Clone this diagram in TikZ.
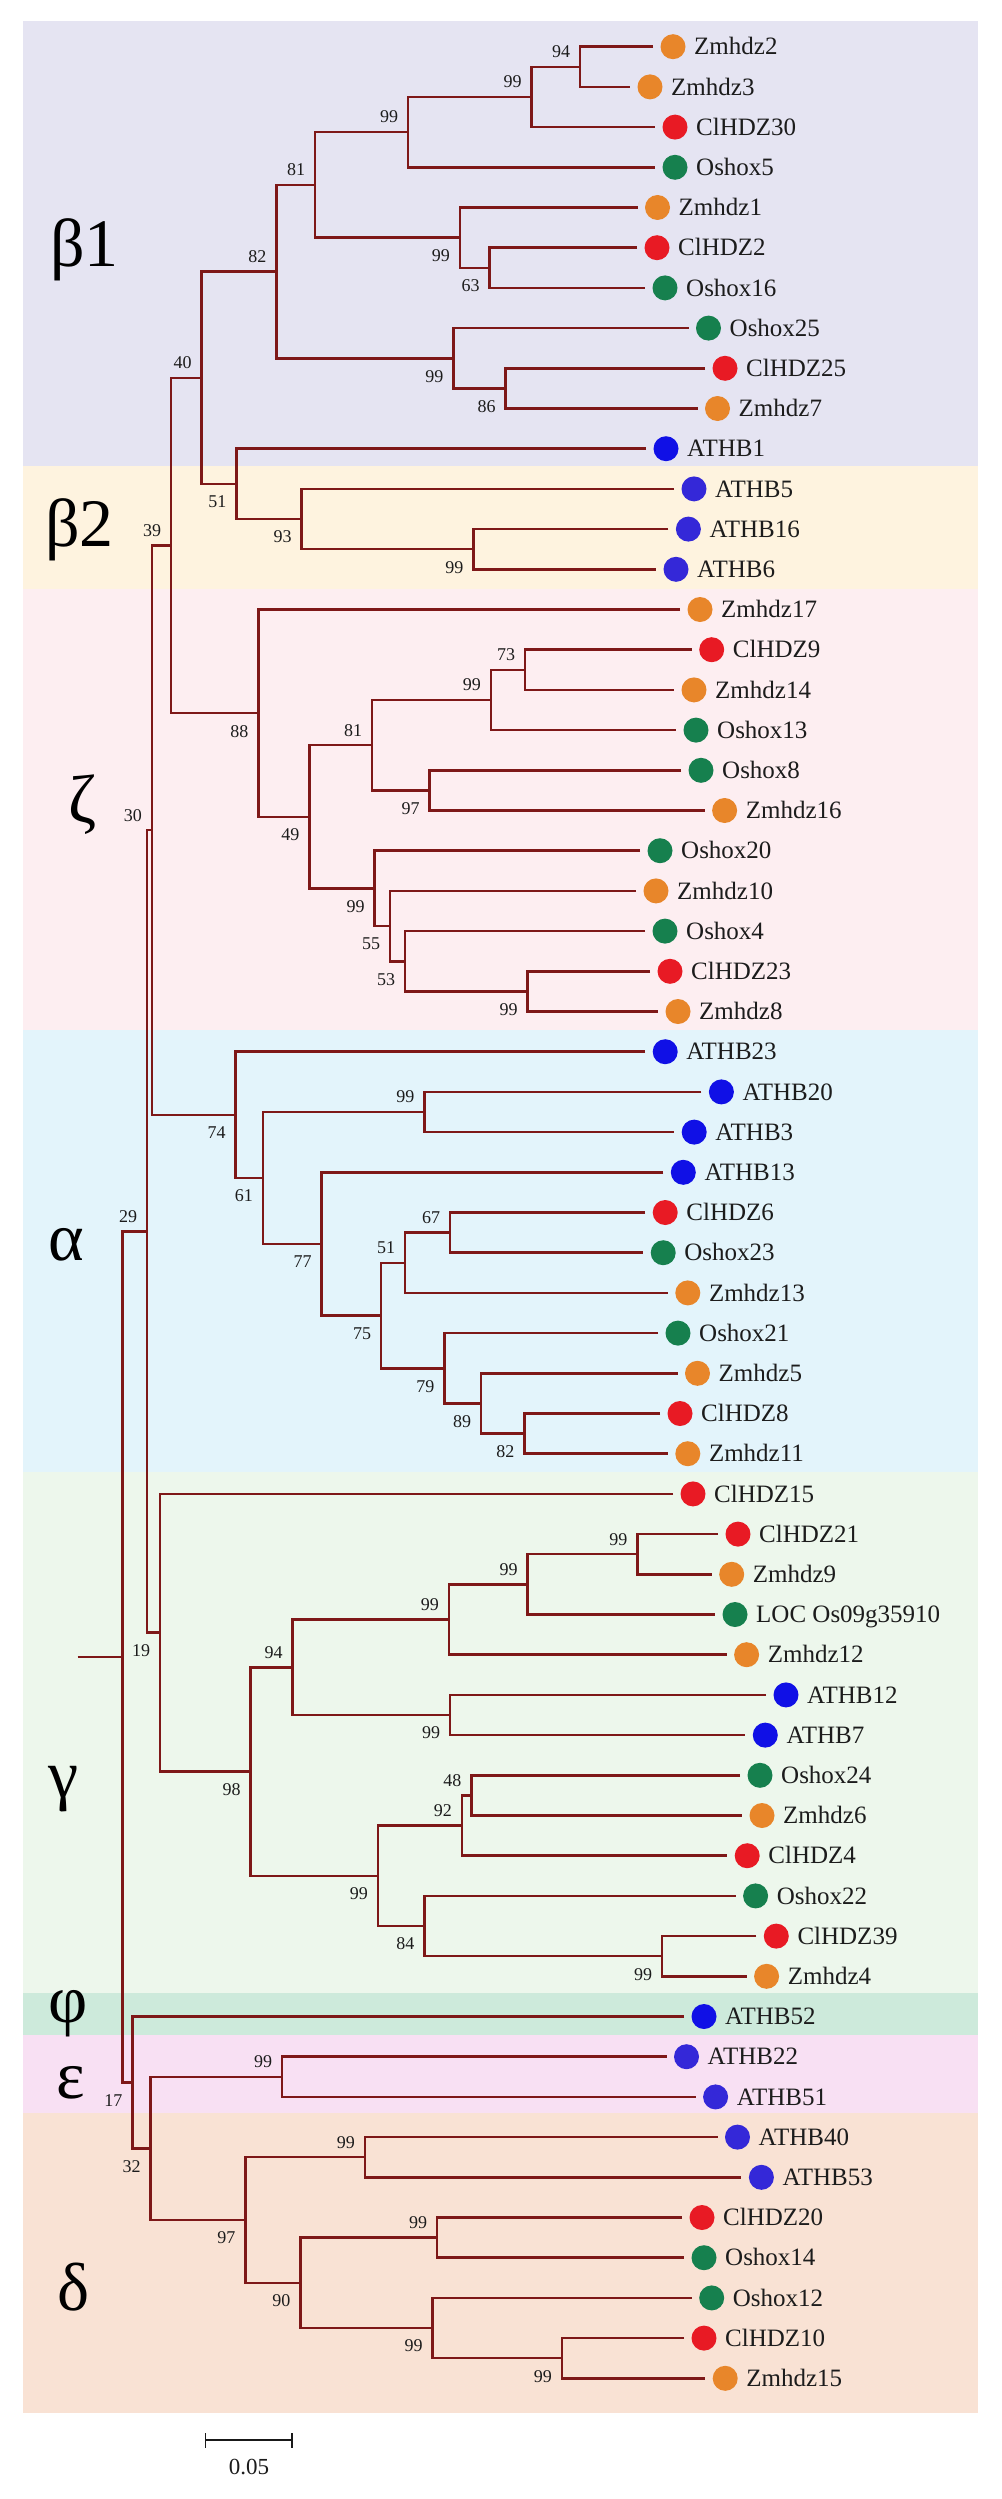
\documentclass[tikz,border=0pt]{standalone}
\usepackage{fontspec}
\setmainfont{Liberation Serif}
\definecolor{orangeC}{HTML}{E8862A}
\definecolor{redC}{HTML}{E81A24}
\definecolor{greenC}{HTML}{16804E}
\definecolor{blueC}{HTML}{1010E6}
\definecolor{blueD}{HTML}{3428D8}
\definecolor{branchC}{HTML}{7E1818}
\definecolor{bandBa}{HTML}{E5E4F2}
\definecolor{bandBb}{HTML}{FEF3DF}
\definecolor{bandZ}{HTML}{FDEEF1}
\definecolor{bandA}{HTML}{E3F4FB}
\definecolor{bandG}{HTML}{EDF7EC}
\definecolor{bandP}{HTML}{CDEADB}
\definecolor{bandE}{HTML}{F8E0F3}
\definecolor{bandD}{HTML}{F9E2D4}
\definecolor{txtC}{HTML}{1C1C1C}
\begin{document}
\begin{tikzpicture}[x=1pt,y=-1pt,
  leafdot/.style={circle, fill=#1, minimum size=25pt, inner sep=0pt, outer sep=7.5pt},
  taxon/.style={anchor=west, inner sep=0pt, xshift=1pt, text height=16.5pt, text depth=0pt, text=txtC, font=\fontsize{25}{30}\selectfont},
  bs/.style={inner sep=0pt, text=txtC, font=\fontsize{18}{20}\selectfont},
  branch/.style={draw=branchC, line width=2.5pt},
  greek/.style={anchor=base west, inner sep=0pt, text=black, font=\fontsize{68}{70}\selectfont},
  band/.style={draw=none}]
\useasboundingbox (0,0) rectangle (1001,2499);
\fill[white] (0,0) rectangle (1001,2499);
% bands
\fill[bandBa] (23.3,21) rectangle (978,465.7);
\fill[bandBb] (23.3,465.7) rectangle (978,589.3);
\fill[bandZ] (23.3,589.3) rectangle (978,1030);
\fill[bandA] (23.3,1030) rectangle (978,1471.7);
\fill[bandG] (23.3,1471.7) rectangle (978,1993.3);
\fill[bandP] (23.3,1993.3) rectangle (978,2035);
\fill[bandE] (23.3,2035) rectangle (978,2112.7);
\fill[bandD] (23.3,2112.7) rectangle (978,2413);
% greek labels
\node[greek] (gb1) at (50,267) {β1};
\node[greek] (gb2) at (45,546) {β2};
\node[greek] (gz) at (68,822) {ζ};
\node[greek] (ga) at (48,1260) {α};
\node[greek] (gg) at (48,1797) {γ};
\node[greek] (gp) at (48,2022) {φ};
\node[greek] (ge) at (56,2098) {ε};
\node[greek] (gd) at (57,2310) {δ};
% leaves
\node[leafdot=orangeC] (l0) at (673,46.7) {};   \node[taxon] (t0) at (l0.east) {Zmhdz2};
\node[leafdot=orangeC] (l1) at (650,86.9) {};   \node[taxon] (t1) at (l1.east) {Zmhdz3};
\node[leafdot=redC] (l2) at (675,127.1) {};     \node[taxon] (t2) at (l2.east) {ClHDZ30};
\node[leafdot=greenC] (l3) at (675,167.3) {};   \node[taxon] (t3) at (l3.east) {Oshox5};
\node[leafdot=orangeC] (l4) at (657.5,207.5) {};\node[taxon] (t4) at (l4.east) {Zmhdz1};
\node[leafdot=redC] (l5) at (657,247.7) {};     \node[taxon] (t5) at (l5.east) {ClHDZ2};
\node[leafdot=greenC] (l6) at (665,287.9) {};   \node[taxon] (t6) at (l6.east) {Oshox16};
\node[leafdot=greenC] (l7) at (708.5,328.1) {}; \node[taxon] (t7) at (l7.east) {Oshox25};
\node[leafdot=redC] (l8) at (725,368.3) {};     \node[taxon] (t8) at (l8.east) {ClHDZ25};
\node[leafdot=orangeC] (l9) at (717.5,408.5) {};\node[taxon] (t9) at (l9.east) {Zmhdz7};
\node[leafdot=blueC] (l10) at (666,448.7) {};   \node[taxon] (t10) at (l10.east) {ATHB1};
\node[leafdot=blueD] (l11) at (694,488.9) {};   \node[taxon] (t11) at (l11.east) {ATHB5};
\node[leafdot=blueD] (l12) at (688.4,529.1) {}; \node[taxon] (t12) at (l12.east) {ATHB16};
\node[leafdot=blueD] (l13) at (676,569.3) {};   \node[taxon] (t13) at (l13.east) {ATHB6};
\node[leafdot=orangeC] (l14) at (700,609.5) {}; \node[taxon] (t14) at (l14.east) {Zmhdz17};
\node[leafdot=redC] (l15) at (711.7,649.7) {};  \node[taxon] (t15) at (l15.east) {ClHDZ9};
\node[leafdot=orangeC] (l16) at (694,689.9) {}; \node[taxon] (t16) at (l16.east) {Zmhdz14};
\node[leafdot=greenC] (l17) at (696,730.1) {};  \node[taxon] (t17) at (l17.east) {Oshox13};
\node[leafdot=greenC] (l18) at (701,770.3) {};  \node[taxon] (t18) at (l18.east) {Oshox8};
\node[leafdot=orangeC] (l19) at (724.6,810.5) {};\node[taxon] (t19) at (l19.east) {Zmhdz16};
\node[leafdot=greenC] (l20) at (660,850.7) {};  \node[taxon] (t20) at (l20.east) {Oshox20};
\node[leafdot=orangeC] (l21) at (656,890.9) {}; \node[taxon] (t21) at (l21.east) {Zmhdz10};
\node[leafdot=greenC] (l22) at (665,931.1) {};  \node[taxon] (t22) at (l22.east) {Oshox4};
\node[leafdot=redC] (l23) at (670,971.3) {};    \node[taxon] (t23) at (l23.east) {ClHDZ23};
\node[leafdot=orangeC] (l24) at (678,1011.5) {};\node[taxon] (t24) at (l24.east) {Zmhdz8};
\node[leafdot=blueC] (l25) at (665.2,1051.7) {};\node[taxon] (t25) at (l25.east) {ATHB23};
\node[leafdot=blueC] (l26) at (721.4,1091.9) {};\node[taxon] (t26) at (l26.east) {ATHB20};
\node[leafdot=blueC] (l27) at (694.2,1132.1) {};\node[taxon] (t27) at (l27.east) {ATHB3};
\node[leafdot=blueC] (l28) at (683.3,1172.3) {};\node[taxon] (t28) at (l28.east) {ATHB13};
\node[leafdot=redC] (l29) at (665.2,1212.5) {}; \node[taxon] (t29) at (l29.east) {ClHDZ6};
\node[leafdot=greenC] (l30) at (663.2,1252.7) {};\node[taxon] (t30) at (l30.east) {Oshox23};
\node[leafdot=orangeC] (l31) at (687.8,1292.9) {};\node[taxon] (t31) at (l31.east) {Zmhdz13};
\node[leafdot=greenC] (l32) at (678,1333.1) {}; \node[taxon] (t32) at (l32.east) {Oshox21};
\node[leafdot=orangeC] (l33) at (697.5,1373.3) {};\node[taxon] (t33) at (l33.east) {Zmhdz5};
\node[leafdot=redC] (l34) at (680,1413.5) {};   \node[taxon] (t34) at (l34.east) {ClHDZ8};
\node[leafdot=orangeC] (l35) at (687.8,1453.7) {};\node[taxon] (t35) at (l35.east) {Zmhdz11};
\node[leafdot=redC] (l36) at (693,1493.9) {};   \node[taxon] (t36) at (l36.east) {ClHDZ15};
\node[leafdot=redC] (l37) at (738,1534.1) {};   \node[taxon] (t37) at (l37.east) {ClHDZ21};
\node[leafdot=orangeC] (l38) at (731.7,1574.3) {};\node[taxon] (t38) at (l38.east) {Zmhdz9};
\node[leafdot=greenC] (l39) at (735,1614.5) {}; \node[taxon] (t39) at (l39.east) {LOC Os09g35910};
\node[leafdot=orangeC] (l40) at (746.6,1654.7) {};\node[taxon] (t40) at (l40.east) {Zmhdz12};
\node[leafdot=blueC] (l41) at (786,1694.9) {};  \node[taxon] (t41) at (l41.east) {ATHB12};
\node[leafdot=blueC] (l42) at (765.3,1735.1) {};\node[taxon] (t42) at (l42.east) {ATHB7};
\node[leafdot=greenC] (l43) at (760,1775.3) {}; \node[taxon] (t43) at (l43.east) {Oshox24};
\node[leafdot=orangeC] (l44) at (762,1815.5) {};\node[taxon] (t44) at (l44.east) {Zmhdz6};
\node[leafdot=redC] (l45) at (747.2,1855.7) {}; \node[taxon] (t45) at (l45.east) {ClHDZ4};
\node[leafdot=greenC] (l46) at (755.6,1895.9) {};\node[taxon] (t46) at (l46.east) {Oshox22};
\node[leafdot=redC] (l47) at (776.3,1936.1) {}; \node[taxon] (t47) at (l47.east) {ClHDZ39};
\node[leafdot=orangeC] (l48) at (766.6,1976.3) {};\node[taxon] (t48) at (l48.east) {Zmhdz4};
\node[leafdot=blueC] (l49) at (704,2016.5) {};  \node[taxon] (t49) at (l49.east) {ATHB52};
\node[leafdot=blueD] (l50) at (686.5,2056.7) {};\node[taxon] (t50) at (l50.east) {ATHB22};
\node[leafdot=blueD] (l51) at (715.6,2096.9) {};\node[taxon] (t51) at (l51.east) {ATHB51};
\node[leafdot=blueD] (l52) at (737.5,2137.1) {};\node[taxon] (t52) at (l52.east) {ATHB40};
\node[leafdot=blueD] (l53) at (761.4,2177.3) {};\node[taxon] (t53) at (l53.east) {ATHB53};
\node[leafdot=redC] (l54) at (702,2217.5) {};   \node[taxon] (t54) at (l54.east) {ClHDZ20};
\node[leafdot=greenC] (l55) at (704,2257.7) {}; \node[taxon] (t55) at (l55.east) {Oshox14};
\node[leafdot=greenC] (l56) at (711.7,2297.9) {};\node[taxon] (t56) at (l56.east) {Oshox12};
\node[leafdot=redC] (l57) at (704,2338.1) {};   \node[taxon] (t57) at (l57.east) {ClHDZ10};
\node[leafdot=orangeC] (l58) at (725.2,2378.3) {};\node[taxon] (t58) at (l58.east) {Zmhdz15};
% internal nodes
\coordinate (nA) at (580,66.8);
\coordinate (nB) at (531.5,96.95);
\coordinate (nC) at (408,132.1);
\coordinate (nD) at (489.5,267.8);
\coordinate (nE) at (459.8,237.65);
\coordinate (nF) at (315,184.9);
\coordinate (nG) at (505.7,388.4);
\coordinate (nH) at (453.3,358.25);
\coordinate (nI) at (276.4,271.6);
\coordinate (nM) at (473.4,549.2);
\coordinate (nL) at (301.6,519.05);
\coordinate (nK) at (236.4,483.9);
\coordinate (nJ) at (201.5,377.75);
\coordinate (nU) at (525,669.8);
\coordinate (nS) at (490.8,699.95);
\coordinate (nT) at (429.5,790.4);
\coordinate (nQ) at (372,745.2);
\coordinate (nX) at (527.6,991.4);
\coordinate (nW) at (405,961.25);
\coordinate (nV) at (390,926.1);
\coordinate (nR) at (374.6,888.4);
\coordinate (nP) at (309.3,816.8);
\coordinate (nO) at (258.3,713.15);
\coordinate (nN) at (171,545.45);
\coordinate (nAA) at (424.3,1112);
\coordinate (nAF) at (450,1232.6);
\coordinate (nAD) at (405,1262.75);
\coordinate (nAH) at (524.4,1433.6);
\coordinate (nAG) at (481.1,1403.45);
\coordinate (nAE) at (444.3,1368.3);
\coordinate (nAC) at (381,1315.5);
\coordinate (nAB) at (321.6,1243.9);
\coordinate (nZ) at (262.8,1177.95);
\coordinate (nY) at (235.7,1114.8);
\coordinate (nN2) at (151.8,830.1);
\coordinate (nG7) at (637.4,1554.2);
\coordinate (nG6) at (527.6,1584.35);
\coordinate (nG4) at (448.8,1619.5);
\coordinate (nG5) at (450,1715);
\coordinate (nG2) at (292.5,1667.25);
\coordinate (nG10) at (471.4,1795.4);
\coordinate (nG8) at (461.8,1825.55);
\coordinate (nG11) at (662,1956.2);
\coordinate (nG9) at (424.3,1926.05);
\coordinate (nG3) at (377.8,1875.8);
\coordinate (nG1) at (250.6,1771.5);
\coordinate (nG0) at (160.2,1632.7);
\coordinate (nN3) at (147.2,1231.4);
\coordinate (nE0) at (282.2,2076.8);
\coordinate (nD1) at (364.9,2157.2);
\coordinate (nD3) at (437.2,2237.6);
\coordinate (nD5) at (561.8,2358.2);
\coordinate (nD4) at (432.7,2328.05);
\coordinate (nD2) at (300.3,2282.8);
\coordinate (nD0) at (245.4,2220);
\coordinate (nN6) at (150.5,2148.4);
\coordinate (nN5) at (132.4,2082.45);
\coordinate (nN4) at (122.7,1656.9);
\coordinate (root) at (77.5,1656.9);
% branches
\draw[branch] (l0) -| (nA) |- (l1);
\draw[branch] (nA) -| (nB) |- (l2);
\draw[branch] (nB) -| (nC) |- (l3);
\draw[branch] (l5) -| (nD) |- (l6);
\draw[branch] (l4) -| (nE) |- (nD);
\draw[branch] (nC) -| (nF) |- (nE);
\draw[branch] (l8) -| (nG) |- (l9);
\draw[branch] (l7) -| (nH) |- (nG);
\draw[branch] (nF) -| (nI) |- (nH);
\draw[branch] (l12) -| (nM) |- (l13);
\draw[branch] (l11) -| (nL) |- (nM);
\draw[branch] (l10) -| (nK) |- (nL);
\draw[branch] (nI) -| (nJ) |- (nK);
\draw[branch] (l15) -| (nU) |- (l16);
\draw[branch] (nU) -| (nS) |- (l17);
\draw[branch] (l18) -| (nT) |- (l19);
\draw[branch] (nS) -| (nQ) |- (nT);
\draw[branch] (l23) -| (nX) |- (l24);
\draw[branch] (l22) -| (nW) |- (nX);
\draw[branch] (l21) -| (nV) |- (nW);
\draw[branch] (l20) -| (nR) |- (nV);
\draw[branch] (nQ) -| (nP) |- (nR);
\draw[branch] (l14) -| (nO) |- (nP);
\draw[branch] (nJ) -| (nN) |- (nO);
\draw[branch] (l26) -| (nAA) |- (l27);
\draw[branch] (l29) -| (nAF) |- (l30);
\draw[branch] (nAF) -| (nAD) |- (l31);
\draw[branch] (l34) -| (nAH) |- (l35);
\draw[branch] (l33) -| (nAG) |- (nAH);
\draw[branch] (l32) -| (nAE) |- (nAG);
\draw[branch] (nAD) -| (nAC) |- (nAE);
\draw[branch] (l28) -| (nAB) |- (nAC);
\draw[branch] (nAA) -| (nZ) |- (nAB);
\draw[branch] (l25) -| (nY) |- (nZ);
\draw[branch] (nN) -| (nN2) |- (nY);
\draw[branch] (l37) -| (nG7) |- (l38);
\draw[branch] (nG7) -| (nG6) |- (l39);
\draw[branch] (nG6) -| (nG4) |- (l40);
\draw[branch] (l41) -| (nG5) |- (l42);
\draw[branch] (nG4) -| (nG2) |- (nG5);
\draw[branch] (l43) -| (nG10) |- (l44);
\draw[branch] (nG10) -| (nG8) |- (l45);
\draw[branch] (l47) -| (nG11) |- (l48);
\draw[branch] (l46) -| (nG9) |- (nG11);
\draw[branch] (nG8) -| (nG3) |- (nG9);
\draw[branch] (nG2) -| (nG1) |- (nG3);
\draw[branch] (l36) -| (nG0) |- (nG1);
\draw[branch] (nN2) -| (nN3) |- (nG0);
\draw[branch] (l50) -| (nE0) |- (l51);
\draw[branch] (l52) -| (nD1) |- (l53);
\draw[branch] (l54) -| (nD3) |- (l55);
\draw[branch] (l57) -| (nD5) |- (l58);
\draw[branch] (l56) -| (nD4) |- (nD5);
\draw[branch] (nD3) -| (nD2) |- (nD4);
\draw[branch] (nD1) -| (nD0) |- (nD2);
\draw[branch] (nE0) -| (nN6) |- (nD0);
\draw[branch] (l49) -| (nN5) |- (nN6);
\draw[branch] (nN3) -| (nN4) |- (nN5);
\draw[branch] (root) -- (nN4);
% bootstrap values (a = above, b = below)
\node[bs] (bA) at ([shift={(-19,-15)}]nA) {94};
\node[bs] (bB) at ([shift={(-19,-15)}]nB) {99};
\node[bs] (bC) at ([shift={(-19,-15)}]nC) {99};
\node[bs] (bD) at ([shift={(-19,18)}]nD) {63};
\node[bs] (bE) at ([shift={(-19,18)}]nE) {99};
\node[bs] (bF) at ([shift={(-19,-15)}]nF) {81};
\node[bs] (bG) at ([shift={(-19,18)}]nG) {86};
\node[bs] (bH) at ([shift={(-19,18)}]nH) {99};
\node[bs] (bI) at ([shift={(-19,-15)}]nI) {82};
\node[bs] (bJ) at ([shift={(-19,-15)}]nJ) {40};
\node[bs] (bK) at ([shift={(-19,18)}]nK) {51};
\node[bs] (bL) at ([shift={(-19,18)}]nL) {93};
\node[bs] (bM) at ([shift={(-19,18)}]nM) {99};
\node[bs] (bN) at ([shift={(-19,-15)}]nN) {39};
\node[bs] (bO) at ([shift={(-19,18)}]nO) {88};
\node[bs] (bP) at ([shift={(-19,18)}]nP) {49};
\node[bs] (bQ) at ([shift={(-19,-15)}]nQ) {81};
\node[bs] (bS) at ([shift={(-19,-15)}]nS) {99};
\node[bs] (bU) at ([shift={(-19,-15)}]nU) {73};
\node[bs] (bT) at ([shift={(-19,18)}]nT) {97};
\node[bs] (bR) at ([shift={(-19,18)}]nR) {99};
\node[bs] (bV) at ([shift={(-19,18)}]nV) {55};
\node[bs] (bW) at ([shift={(-19,18)}]nW) {53};
\node[bs] (bX) at ([shift={(-19,18)}]nX) {99};
\node[bs] (bN2) at ([shift={(-19,-15)}]nN2) {30};
\node[bs] (bY) at ([shift={(-19,18)}]nY) {74};
\node[bs] (bZ) at ([shift={(-19,18)}]nZ) {61};
\node[bs] (bAA) at ([shift={(-19,-15)}]nAA) {99};
\node[bs] (bAB) at ([shift={(-19,18)}]nAB) {77};
\node[bs] (bAC) at ([shift={(-19,18)}]nAC) {75};
\node[bs] (bAD) at ([shift={(-19,-15)}]nAD) {51};
\node[bs] (bAF) at ([shift={(-19,-15)}]nAF) {67};
\node[bs] (bAE) at ([shift={(-19,18)}]nAE) {79};
\node[bs] (bAG) at ([shift={(-19,18)}]nAG) {89};
\node[bs] (bAH) at ([shift={(-19,18)}]nAH) {82};
\node[bs] (bN3) at ([shift={(-19,-15)}]nN3) {29};
\node[bs] (bG0) at ([shift={(-19,18)}]nG0) {19};
\node[bs] (bG1) at ([shift={(-19,18)}]nG1) {98};
\node[bs] (bG2) at ([shift={(-19,-15)}]nG2) {94};
\node[bs] (bG4) at ([shift={(-19,-15)}]nG4) {99};
\node[bs] (bG6) at ([shift={(-19,-15)}]nG6) {99};
\node[bs] (bG7) at ([shift={(-19,-15)}]nG7) {99};
\node[bs] (bG5) at ([shift={(-19,18)}]nG5) {99};
\node[bs] (bG3) at ([shift={(-19,18)}]nG3) {99};
\node[bs] (bG8) at ([shift={(-19,-15)}]nG8) {92};
\node[bs] (bG10) at ([shift={(-19,-15)}]nG10) {48};
\node[bs] (bG9) at ([shift={(-19,18)}]nG9) {84};
\node[bs] (bG11) at ([shift={(-19,18)}]nG11) {99};
\node[bs] (bN5) at ([shift={(-19,18)}]nN5) {17};
\node[bs] (bN6) at ([shift={(-19,18)}]nN6) {32};
\node[bs] (bE0) at ([shift={(-19,-15)}]nE0) {99};
\node[bs] (bD0) at ([shift={(-19,18)}]nD0) {97};
\node[bs] (bD1) at ([shift={(-19,-15)}]nD1) {99};
\node[bs] (bD2) at ([shift={(-19,18)}]nD2) {90};
\node[bs] (bD3) at ([shift={(-19,-15)}]nD3) {99};
\node[bs] (bD4) at ([shift={(-19,18)}]nD4) {99};
\node[bs] (bD5) at ([shift={(-19,18)}]nD5) {99};
% scale bar
\coordinate (s1) at (205.4,2440);
\coordinate (s2) at (292,2440);
\draw[line width=2pt, black!90] (s1) -- (s2);
\draw[line width=1.6pt, black!90] ([yshift=7pt]s1) -- ([yshift=-8pt]s1);
\draw[line width=1.6pt, black!90] ([yshift=7pt]s2) -- ([yshift=-8pt]s2);
\node[inner sep=0pt, text=txtC, font=\fontsize{23}{25}\selectfont] (scl) at (249,2467) {0.05};
\end{tikzpicture}
\end{document}
